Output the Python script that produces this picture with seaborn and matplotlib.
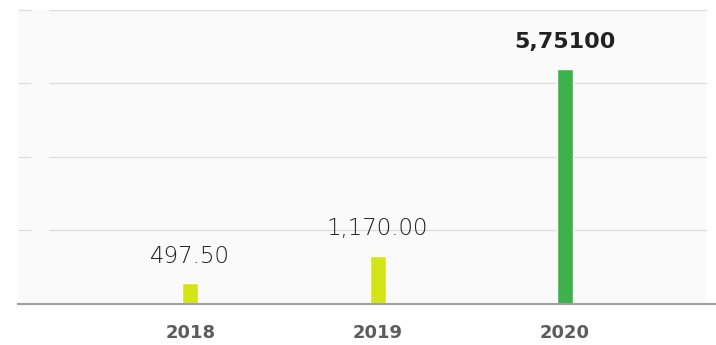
import matplotlib
matplotlib.use("Agg")
import matplotlib.pyplot as plt
import seaborn as sns
import pandas as pd
from matplotlib.patches import Rectangle

# Data
years = ["2018", "2019", "2020"]
values = [497.50, 1170.00, 5751.00]
value_labels = ["497.50", "1,170.00", "5,75100"]
bar_colors = ["#d4e516", "#d4e516", "#3db14a"]
y_ticks = [0, 1800, 3600, 5400, 7200]

sns.set_theme(style="white")
plt.rcParams["font.family"] = ["DejaVu Sans"]

W, H = 716, 345
fig = plt.figure(figsize=(W / 100, H / 100), dpi=100)
ax = fig.add_axes([18 / W, (H - 303.7) / H, (W - 18) / W, (303.7 - 9.5) / H])
ax.set_facecolor("none")

# light panel behind the bars, stopping a little short of the right edge
panel_frac = (706 - 18) / (W - 18)
ax.add_patch(Rectangle((0, 0), panel_frac, 1, transform=ax.transAxes,
                       facecolor="#fafafa", edgecolor="none", zorder=0))

df = pd.DataFrame({"year": years, "value": values})
sns.barplot(data=df, x="year", y="value", hue="year", palette=bar_colors,
            width=0.085, saturation=1, legend=False, ax=ax, zorder=3)

ax.set_xlim(-0.92, 2.807)
ax.set_ylim(y_ticks[0], 7170)

# horizontal grid lines (leave a small gap after the left tick marks)
for y in y_ticks[1:]:
    ax.axhline(y, xmin=(49 - 18) / (W - 18), xmax=panel_frac,
               color="#dcdcdc", lw=0.9, zorder=1)

ax.set_yticks(y_ticks)
ax.set_yticklabels([])
ax.tick_params(axis="y", direction="in", length=9.4, width=0.9,
               color="#dcdcdc", left=True)

for side in ["left", "right", "top"]:
    ax.spines[side].set_visible(False)
ax.spines["bottom"].set_color("#a0a0a0")
ax.spines["bottom"].set_linewidth(1.5)
ax.spines["bottom"].set_zorder(4)

ax.tick_params(axis="x", length=0, pad=24.9, labelsize=13, labelcolor="#5c5c5c")
for lbl in ax.get_xticklabels():
    lbl.set_fontweight("bold")
    lbl.set_va("baseline")

ax.set_xlabel("")
ax.set_ylabel("")

# value labels above each bar
for i, (v, t) in enumerate(zip(values, value_labels)):
    last = i == len(values) - 1
    ax.annotate(t, (i, v), xytext=(0, 15), textcoords="offset points",
                ha="center", va="baseline", fontsize=16 if last else 16.5,
                fontweight="bold" if last else "light",
                color="#222222" if last else "#1e1e1e", zorder=5)

fig.savefig("out.png", dpi=100)
